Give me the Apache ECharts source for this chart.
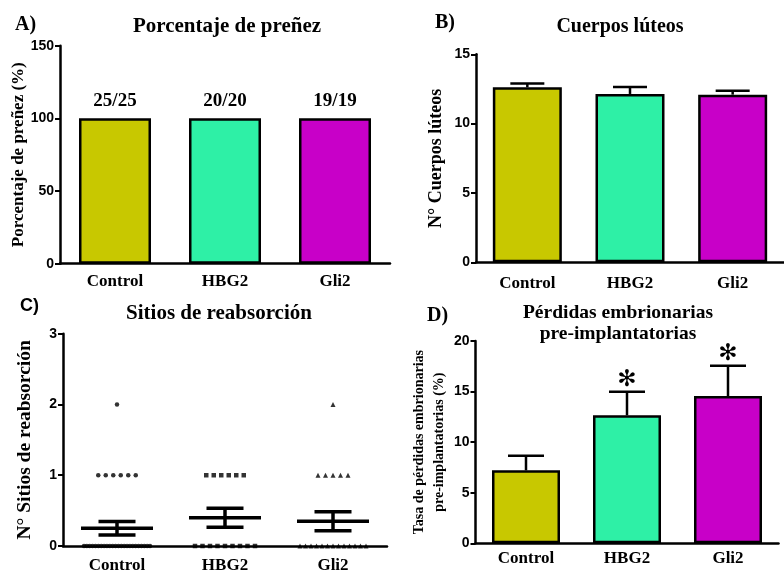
<!DOCTYPE html>
<html>
<head>
<meta charset="utf-8">
<script src="https://cdn.jsdelivr.net/npm/echarts@6/dist/echarts.min.js"></script>
<style>html,body{margin:0;padding:0;background:#fff;}#c{width:784px;height:574px;}</style>
</head>
<body>
<div id="c"></div>
<script>
const categories = ['Control', 'HBG2', 'Gli2'];
const groupColors = ['#C8C800', '#2EF0A6', '#C800C8'];

// A) Porcentaje de preñez
const pregnancyPct = [100, 100, 100];
const pregnancyLabels = ['25/25', '20/20', '19/19'];

// B) Cuerpos lúteos
const lutealMean = [12.62, 12.14, 12.09];
const lutealSEM = [0.28, 0.50, 0.28];

// C) Sitios de reabsorción (individual values)
const resorptionControl = [2, 1, 1, 1, 1, 1, 1, 0, 0, 0, 0, 0, 0, 0, 0, 0, 0, 0, 0, 0, 0, 0, 0, 0, 0, 0, 0, 0, 0, 0, 0];
const resorptionHBG2 = [1, 1, 1, 1, 1, 1, 0, 0, 0, 0, 0, 0, 0, 0, 0];
const resorptionGli2 = [2, 1, 1, 1, 1, 1, 0, 0, 0, 0, 0, 0, 0, 0, 0, 0, 0, 0, 0];
const resorptionMean = [0.25, 0.40, 0.35];
const resorptionSEM = [0.095, 0.135, 0.135];

// D) Pérdidas embrionarias pre-implantatorias
const lossMean = [7.21, 12.65, 14.56];
const lossSEM = [1.45, 2.33, 2.99];
const lossSignificance = ['', '✻', '✻'];

const SERIF = '"Liberation Serif", "Times New Roman", serif';
const SANS = '"Liberation Sans", Arial, sans-serif';

const chart = echarts.init(document.getElementById('c'), null, {renderer: 'canvas'});

function xAxisFor(i, margin) {
  return {
    type: 'category', gridIndex: i, data: categories,
    axisLine: {lineStyle: {color: '#000', width: 2.5}},
    axisTick: {alignWithLabel: true, length: 5, lineStyle: {color: '#000', width: 2}},
    axisLabel: {margin: margin, color: '#000', fontFamily: SERIF, fontWeight: 'bold', fontSize: 17},
    splitLine: {show: false}
  };
}
function yAxisFor(i, max, interval, name, gap, nameSize, lineH) {
  return {
    type: 'value', gridIndex: i, min: 0, max: max, interval: interval,
    name: name, nameLocation: 'middle', nameGap: gap, nameMoveOverlap: false,
    nameTextStyle: {color: '#000', fontFamily: SERIF, fontWeight: 'bold', fontSize: nameSize, lineHeight: lineH},
    axisLine: {show: true, lineStyle: {color: '#000', width: 2.5}},
    axisTick: {show: true, length: 5, lineStyle: {color: '#000', width: 2}},
    axisLabel: {margin: 6, color: '#000', fontFamily: SANS, fontWeight: 'bold', fontSize: 14},
    splitLine: {show: false}
  };
}

function barData(values) {
  return values.map((v, i) => ({value: v, itemStyle: {color: groupColors[i]}}));
}

function errorBarRenderer(capHalf, sigList) {
  return function (params, api) {
    const i = api.value(0), m = api.value(1), s = api.value(2);
    const p0 = api.coord([i, m]);
    const p1 = api.coord([i, m + s]);
    const st = {stroke: '#000', lineWidth: 2.5};
    const children = [
      {type: 'line', shape: {x1: p0[0], y1: p0[1], x2: p1[0], y2: p1[1]}, style: st},
      {type: 'line', shape: {x1: p1[0] - capHalf, y1: p1[1], x2: p1[0] + capHalf, y2: p1[1]}, style: st}
    ];
    const sig = sigList ? sigList[params.dataIndex] : '';
    if (sig) {
      children.push({type: 'text', x: p1[0], y: p1[1] - 12,
        style: {text: sig, font: 'bold 23px "DejaVu Sans"', fill: '#000',
          align: 'center', verticalAlign: 'middle', textAlign: 'center', textVerticalAlign: 'middle'}});
    }
    return {type: 'group', children: children};
  };
}

function meanSemRenderer(params, api) {
  const i = api.value(0), m = api.value(1), s = api.value(2);
  const pm = api.coord([i, m]);
  const pu = api.coord([i, m + s]);
  const pl = api.coord([i, m - s]);
  const st = {stroke: '#000', lineWidth: 3.5};
  return {type: 'group', children: [
    {type: 'line', shape: {x1: pm[0] - 36, y1: pm[1], x2: pm[0] + 36, y2: pm[1]}, style: st},
    {type: 'line', shape: {x1: pu[0], y1: pu[1], x2: pl[0], y2: pl[1]}, style: st},
    {type: 'line', shape: {x1: pu[0] - 18.5, y1: pu[1], x2: pu[0] + 18.5, y2: pu[1]}, style: st},
    {type: 'line', shape: {x1: pl[0] - 18.5, y1: pl[1], x2: pl[0] + 18.5, y2: pl[1]}, style: st}
  ]};
}

// spread points sharing a value horizontally around the category center
function spreadPoints(values, catIndex) {
  const counts = {}, seen = {};
  values.forEach(v => { counts[v] = (counts[v] || 0) + 1; });
  return values.map(v => {
    const n = counts[v];
    const k = seen[v] || 0; seen[v] = k + 1;
    const spacing = n > 1 ? Math.min(7.5, 66 / (n - 1)) : 0;
    return {value: [catIndex, v], symbolOffset: [(k - (n - 1) / 2) * spacing, 0]};
  });
}

const option = {
  animation: false,
  backgroundColor: '#fff',
  grid: [
    {left: 60, top: 45.7, width: 330, height: 218},
    {left: 476, top: 54.3, width: 312, height: 208},
    {left: 63, top: 333.7, width: 324, height: 213.3},
    {left: 475.5, top: 341, width: 303, height: 202.3}
  ],
  xAxis: [xAxisFor(0, 9), xAxisFor(1, 13), xAxisFor(2, 11), xAxisFor(3, 7)],
  yAxis: [
    yAxisFor(0, 150, 50, 'Porcentaje de preñez (%)', 31, 17, 20),
    yAxisFor(1, 15, 5, 'N° Cuerpos lúteos', 30, 18, 20),
    yAxisFor(2, 3, 1, 'N° Sitios de reabsorción', 28, 19.5, 20),
    yAxisFor(3, 20, 5, 'Tasa de pérdidas embrionarias\npre-implantatorias (%)', 26, 14, 20)
  ],
  graphic: [
    {type: 'text', left: 15, top: 15, style: {text: 'A)', font: 'bold 20px ' + SERIF, fill: '#000'}},
    {type: 'text', left: 435, top: 13, style: {text: 'B)', font: 'bold 20px ' + SERIF, fill: '#000'}},
    {type: 'text', left: 20, top: 297, style: {text: 'C)', font: 'bold 18px ' + SANS, fill: '#000'}},
    {type: 'text', left: 427, top: 306, style: {text: 'D)', font: 'bold 20px ' + SERIF, fill: '#000'}},
    {type: 'text', x: 227, y: 27, style: {text: 'Porcentaje de preñez', font: 'bold 21px ' + SERIF, fill: '#000', textAlign: 'center', textVerticalAlign: 'middle'}},
    {type: 'text', x: 620, y: 27, style: {text: 'Cuerpos lúteos', font: 'bold 20px ' + SERIF, fill: '#000', textAlign: 'center', textVerticalAlign: 'middle'}},
    {type: 'text', x: 219, y: 314, style: {text: 'Sitios de reabsorción', font: 'bold 21px ' + SERIF, fill: '#000', textAlign: 'center', textVerticalAlign: 'middle'}},
    {type: 'text', x: 618, y: 313, style: {text: 'Pérdidas embrionarias', font: 'bold 19.5px ' + SERIF, fill: '#000', textAlign: 'center', textVerticalAlign: 'middle'}},
    {type: 'text', x: 618, y: 334, style: {text: 'pre-implantatorias', font: 'bold 19.5px ' + SERIF, fill: '#000', textAlign: 'center', textVerticalAlign: 'middle'}}
  ],
  series: [
    {type: 'bar', xAxisIndex: 0, yAxisIndex: 0, barWidth: 72, data: barData(pregnancyPct),
      itemStyle: {borderColor: '#000', borderWidth: 2.5},
      label: {show: true, position: 'top', distance: 8, formatter: p => pregnancyLabels[p.dataIndex],
        color: '#000', fontFamily: SERIF, fontWeight: 'bold', fontSize: 19}},
    {type: 'bar', xAxisIndex: 1, yAxisIndex: 1, barWidth: 69, data: barData(lutealMean),
      itemStyle: {borderColor: '#000', borderWidth: 2.5}},
    {type: 'custom', xAxisIndex: 1, yAxisIndex: 1, z: 5,
      data: lutealMean.map((m, i) => [i, m, lutealSEM[i]]), encode: {x: 0, y: 1},
      renderItem: errorBarRenderer(17, null)},
    {type: 'scatter', xAxisIndex: 2, yAxisIndex: 2, symbol: 'circle', symbolSize: 4.5, clip: false,
      itemStyle: {color: '#000'}, data: spreadPoints(resorptionControl, 0)},
    {type: 'scatter', xAxisIndex: 2, yAxisIndex: 2, symbol: 'rect', symbolSize: 4.5, clip: false,
      itemStyle: {color: '#000'}, data: spreadPoints(resorptionHBG2, 1)},
    {type: 'scatter', xAxisIndex: 2, yAxisIndex: 2, symbol: 'triangle', symbolSize: 5, clip: false,
      itemStyle: {color: '#000'}, data: spreadPoints(resorptionGli2, 2)},
    {type: 'custom', xAxisIndex: 2, yAxisIndex: 2, z: 5,
      data: resorptionMean.map((m, i) => [i, m, resorptionSEM[i]]), encode: {x: 0, y: 1},
      renderItem: meanSemRenderer},
    {type: 'bar', xAxisIndex: 3, yAxisIndex: 3, barWidth: 68, data: barData(lossMean),
      itemStyle: {borderColor: '#000', borderWidth: 2.5}},
    {type: 'custom', xAxisIndex: 3, yAxisIndex: 3, z: 5,
      data: lossMean.map((m, i) => [i, m, lossSEM[i]]), encode: {x: 0, y: 1},
      renderItem: errorBarRenderer(18, lossSignificance)}
  ]
};
chart.setOption(option);
</script>
</body>
</html>
